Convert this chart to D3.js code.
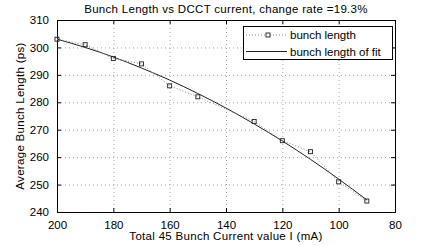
<!DOCTYPE html>
<html>
<head>
<meta charset="utf-8">
<script src="https://cdn.jsdelivr.net/npm/d3@7"></script>
<style>
  body { margin: 0; background: #fff; }
  svg { font-family: "Liberation Sans", Arial, sans-serif; }
</style>
</head>
<body>
<svg id="chart" width="436" height="245"></svg>
<script>
// measured bunch length (ps) at each total current (mA)
const current = [200, 190, 180, 170, 160, 150, 130, 120, 110, 100, 90];
const bunchLength = [303, 301, 296, 294, 286, 282, 273, 266, 262, 251, 244];

// fitted curve
const fitCurrent = [200, 190, 180, 170, 160, 150, 140, 130, 120, 110, 100, 90];
const fitLength = [303.0, 300.0, 296.5, 292.5, 288.1, 283.2, 277.9, 272.1, 265.9, 259.2, 252.0, 244.4];

const xTicks = [200, 180, 160, 140, 120, 100, 80];
const yTicks = [240, 250, 260, 270, 280, 290, 300, 310];

let svg = d3.select("#chart");
const plotLeft = 57, plotRight = 395, plotTop = 20, plotBottom = 212;

let x = d3.scaleLinear().domain([200, 80]).range([plotLeft, plotRight]);
let y = d3.scaleLinear().domain([240, 310]).range([plotBottom, plotTop]);

// grid
svg.append("g")
    .selectAll("line")
    .data(xTicks.slice(1, -1))
    .enter()
    .append("line")
    .attr("x1", d => x(d) + 0.5).attr("x2", d => x(d) + 0.5)
    .attr("y1", plotTop).attr("y2", plotBottom)
    .attr("stroke", "#a8a8a8")
    .attr("stroke-dasharray", "1,3");
svg.append("g")
    .selectAll("line")
    .data(yTicks.slice(1, -1))
    .enter()
    .append("line")
    .attr("y1", d => y(d) + 0.5).attr("y2", d => y(d) + 0.5)
    .attr("x1", plotLeft).attr("x2", plotRight)
    .attr("stroke", "#a8a8a8")
    .attr("stroke-dasharray", "1,3");

// axes, ticks inside
svg.append("g")
    .attr("transform", `translate(0,${plotBottom})`)
    .call(d3.axisBottom(x).tickValues(xTicks).tickSizeInner(-4).tickSizeOuter(0).tickPadding(9));
svg.append("g")
    .attr("transform", `translate(0,${plotTop})`)
    .call(d3.axisTop(x).tickValues(xTicks).tickSizeInner(-4).tickSizeOuter(0).tickFormat(""));
svg.append("g")
    .attr("transform", `translate(${plotLeft},0)`)
    .call(d3.axisLeft(y).tickValues(yTicks).tickSizeInner(-4).tickSizeOuter(0).tickPadding(8));
svg.append("g")
    .attr("transform", `translate(${plotRight},0)`)
    .call(d3.axisRight(y).tickValues(yTicks).tickSizeInner(-4).tickSizeOuter(0).tickFormat(""));

svg.selectAll(".domain").attr("stroke", "#000");
svg.selectAll(".tick line").attr("stroke", "#000");
svg.selectAll(".tick text")
    .attr("font-size", 11.5)
    .attr("font-family", "Liberation Sans, Arial, sans-serif")
    .attr("fill", "#000");

// frame
svg.append("rect")
    .attr("x", plotLeft + 0.5).attr("y", plotTop + 0.5)
    .attr("width", plotRight - plotLeft).attr("height", plotBottom - plotTop)
    .attr("fill", "none")
    .attr("stroke", "#000");

// fit line
let fitLine = d3.line()
    .x((d, i) => x(fitCurrent[i]))
    .y(d => y(d))
    .curve(d3.curveMonotoneX);
svg.append("path")
    .attr("d", fitLine(fitLength))
    .attr("fill", "none")
    .attr("stroke", "#222")
    .attr("stroke-width", 1);

// measured data: dotted line with squares
let dataLine = d3.line()
    .x((d, i) => x(current[i]))
    .y(d => y(d));
svg.append("path")
    .attr("d", dataLine(bunchLength))
    .attr("fill", "none")
    .attr("stroke", "#888")
    .attr("stroke-dasharray", "1,2");
svg.append("g")
    .selectAll("rect")
    .data(bunchLength)
    .enter()
    .append("rect")
    .attr("x", (d, i) => x(current[i]) - 2)
    .attr("y", d => y(d) - 2)
    .attr("width", 4)
    .attr("height", 4)
    .attr("fill", "none")
    .attr("stroke", "#222")
    .attr("stroke-width", 0.9);

// legend
let legend = svg.append("g");
legend.append("rect")
    .attr("x", 243.5).attr("y", 26.5)
    .attr("width", 149).attr("height", 33)
    .attr("fill", "#fff")
    .attr("stroke", "#000");
legend.append("line")
    .attr("x1", 246).attr("x2", 287)
    .attr("y1", 35).attr("y2", 35)
    .attr("stroke", "#888")
    .attr("stroke-dasharray", "1,2");
legend.append("rect")
    .attr("x", 266).attr("y", 33).attr("width", 4).attr("height", 4)
    .attr("fill", "#fff").attr("stroke", "#222").attr("stroke-width", 0.9);
legend.append("line")
    .attr("x1", 246).attr("x2", 287)
    .attr("y1", 51.5).attr("y2", 51.5)
    .attr("stroke", "#222");
legend.append("text")
    .attr("x", 290).attr("y", 39)
    .attr("font-size", 11.5)
    .text("bunch length");
legend.append("text")
    .attr("x", 290).attr("y", 55.5)
    .attr("font-size", 11.5)
    .text("bunch length of fit");

// titles
svg.append("text")
    .attr("x", (plotLeft + plotRight) / 2).attr("y", 13)
    .attr("text-anchor", "middle")
    .attr("font-size", 11.5)
    .attr("letter-spacing", 0.3)
    .text("Bunch Length vs DCCT current, change rate =19.3%");
svg.append("text")
    .attr("x", (plotLeft + plotRight) / 2).attr("y", 240)
    .attr("text-anchor", "middle")
    .attr("font-size", 11.5)
    .attr("letter-spacing", 0.3)
    .text("Total 45 Bunch Current value I (mA)");
svg.append("text")
    .attr("transform", `translate(24,${(plotTop + plotBottom) / 2}) rotate(-90)`)
    .attr("text-anchor", "middle")
    .attr("font-size", 11.5)
    .attr("letter-spacing", 0.3)
    .text("Average Bunch Length (ps)");
</script>
</body>
</html>
